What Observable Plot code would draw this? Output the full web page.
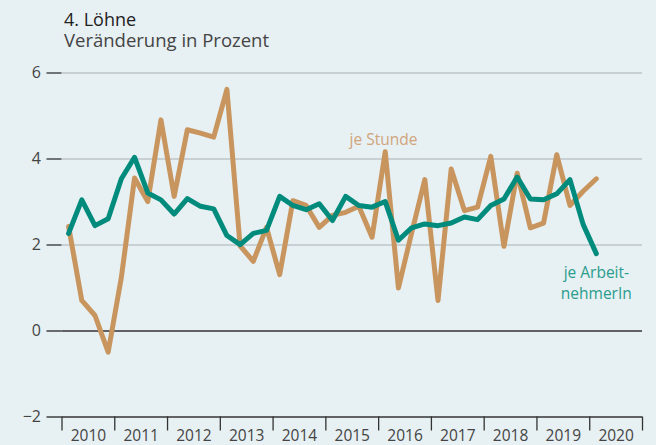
<!DOCTYPE html>
<html>
<head>
<meta charset="utf-8">
<script src="https://cdn.jsdelivr.net/npm/d3@7"></script>
<script src="https://cdn.jsdelivr.net/npm/@observablehq/plot@0.6"></script>
<style>
  html, body { margin: 0; padding: 0; background: #e7f0f2; }
  #wrap { position: relative; width: 656px; height: 445px; overflow: hidden; font-family: "Open Sans", sans-serif; }
  .ttl { position: absolute; left: 64px; white-space: nowrap; }
  #title { top: 10px; font-size: 18px; line-height: 18px; color: #222; }
  #subtitle { top: 30.5px; font-size: 18.5px; line-height: 18.5px; color: #444; }
  #chart { position: absolute; left: 0; top: 0; }
</style>
</head>
<body>
<div id="wrap">
  <div id="chart"></div>
  <div id="title" class="ttl">4. Löhne</div>
  <div id="subtitle" class="ttl">Veränderung in Prozent</div>
</div>
<script>
const quarters = [
  "2010Q1","2010Q2","2010Q3","2010Q4","2011Q1","2011Q2","2011Q3","2011Q4",
  "2012Q1","2012Q2","2012Q3","2012Q4","2013Q1","2013Q2","2013Q3","2013Q4",
  "2014Q1","2014Q2","2014Q3","2014Q4","2015Q1","2015Q2","2015Q3","2015Q4",
  "2016Q1","2016Q2","2016Q3","2016Q4","2017Q1","2017Q2","2017Q3","2017Q4",
  "2018Q1","2018Q2","2018Q3","2018Q4","2019Q1","2019Q2","2019Q3","2019Q4",
  "2020Q1"
];
const jeStunde = [
  2.43, 0.71, 0.36, -0.49, 1.25, 3.56, 3.01, 4.91,
  3.13, 4.68, 4.60, 4.51, 5.62, 1.98, 1.62, 2.41,
  1.31, 3.03, 2.92, 2.41, 2.69, 2.76, 2.90, 2.18,
  4.17, 1.00, 2.28, 3.52, 0.71, 3.77, 2.80, 2.88,
  4.06, 1.97, 3.67, 2.40, 2.51, 4.10, 2.92, 3.25,
  3.54
];
const jeArbeitnehmerIn = [
  2.27, 3.05, 2.45, 2.61, 3.54, 4.04, 3.21, 3.05,
  2.72, 3.08, 2.90, 2.84, 2.22, 2.01, 2.27, 2.34,
  3.13, 2.92, 2.82, 2.96, 2.57, 3.13, 2.92, 2.88,
  3.01, 2.11, 2.40, 2.49, 2.45, 2.51, 2.65, 2.59,
  2.92, 3.07, 3.58, 3.07, 3.05, 3.19, 3.52, 2.48,
  1.80
];
const yearTicks = [2010,2011,2012,2013,2014,2015,2016,2017,2018,2019,2020,2021];
const yearLabels = ["2010","2011","2012","2013","2014","2015","2016","2017","2018","2019","2020"];
const yTicksGrid = [2, 4, 6];
const yTicksDark = [-2, 0];

const toT = q => +q.slice(0, 4) + (+q.slice(5) - 1) / 4 + 0.125;
const data = quarters.map((q, i) => ({t: toT(q), stunde: jeStunde[i], an: jeArbeitnehmerIn[i]}));
const last = data[data.length - 1];

const orange = "#c8955f";
const teal = "#008b7c";

const chart = Plot.plot({
  width: 656,
  height: 445,
  marginLeft: 61.5,
  marginRight: 14,
  marginTop: 72.5,
  marginBottom: 28.5,
  style: {background: "transparent", fontFamily: "Open Sans, sans-serif"},
  x: {domain: [2010, 2021], axis: null},
  y: {domain: [-2, 6], axis: null},
  marks: [
    Plot.ruleY(yTicksGrid, {stroke: "#c9d0d3", strokeWidth: 2}),
    Plot.ruleY([0], {stroke: "#333", strokeWidth: 1.4}),
    Plot.ruleY([-2], {stroke: "#333", strokeWidth: 1.4}),
    Plot.axisY({ticks: yTicksGrid, tickSize: 15, tickPadding: 6, stroke: "#6f7476", strokeWidth: 2, fill: "#444", fontSize: 16, label: null}),
    Plot.axisY({ticks: yTicksDark, tickSize: 15, tickPadding: 6, stroke: "#333", strokeWidth: 1.4, fill: "#444", fontSize: 16, label: null}),
    Plot.axisX({ticks: yearTicks, tickSize: 14, tickFormat: () => "", stroke: "#333", strokeWidth: 1.3, label: null}),
    Plot.text(yearLabels, {x: d => +d + 0.5, frameAnchor: "bottom", dy: 19.5, fill: "#444", fontSize: 15.5, lineAnchor: "middle"}),
    Plot.line(data, {x: "t", y: "stunde", stroke: orange, strokeWidth: 5, strokeLinejoin: "round"}),
    Plot.line(data, {x: "t", y: "an", stroke: teal, strokeWidth: 5, strokeLinejoin: "round"}),
    Plot.text(["je Stunde"], {x: 2015.45, y: 4.43, text: d => d, textAnchor: "start", fill: "#d0a57c", fontSize: 15.5}),
    Plot.text(["je Arbeit-\nnehmerIn"], {x: last.t, y: 1.57, text: d => d, textAnchor: "middle", lineAnchor: "top", lineHeight: 1.35, fill: "#2a9d8e", fontSize: 15.5})
  ]
});
document.getElementById("chart").appendChild(chart);
</script>
</body>
</html>
